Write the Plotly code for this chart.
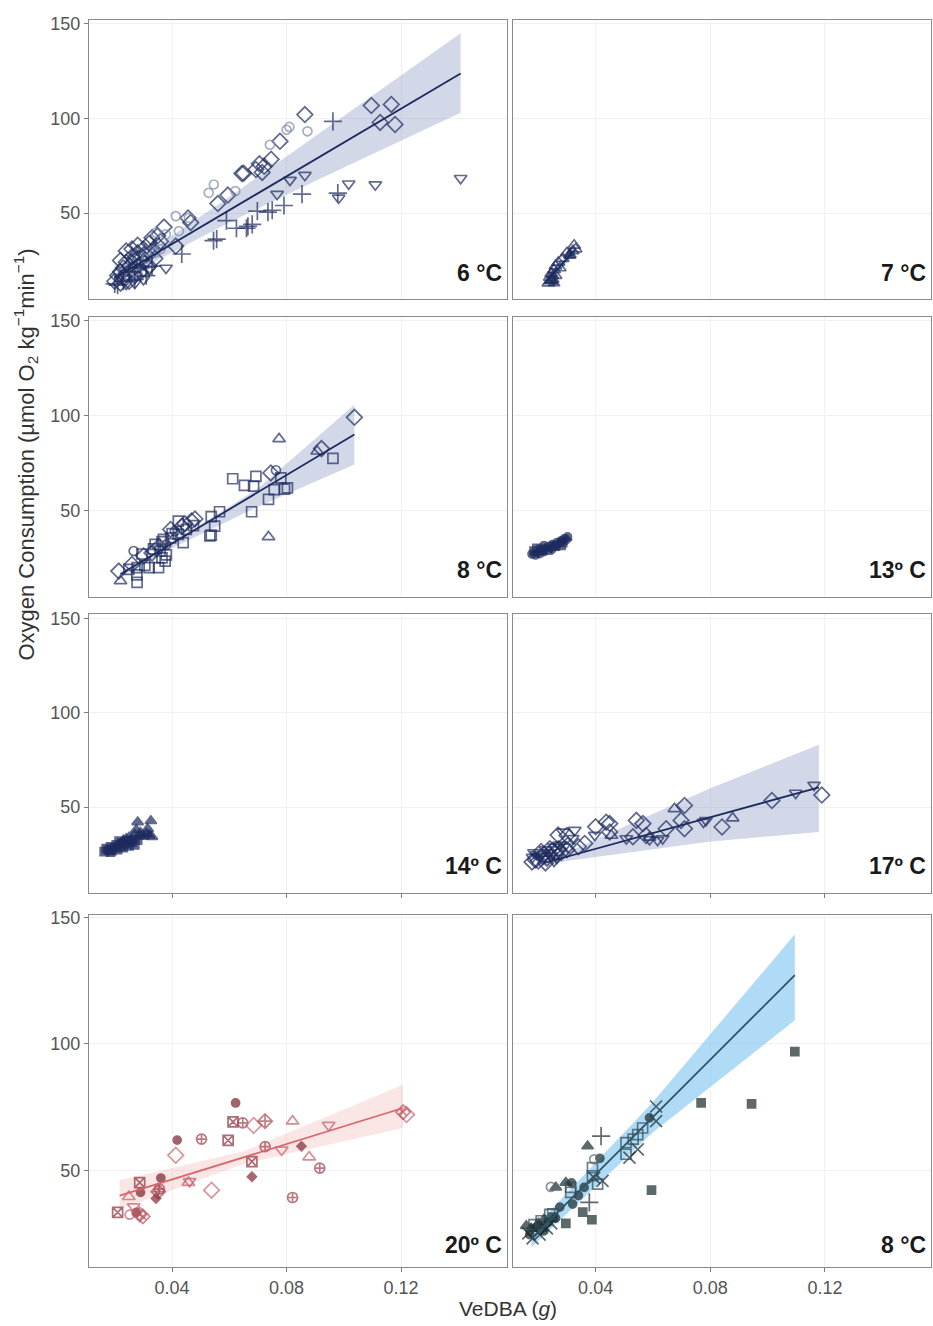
import plotly.graph_objects as go

# ---------------------------------------------------------------- data ----
# VeDBA (g) vs oxygen consumption (umol O2 kg-1 min-1), one set per panel.
# Shape codes: d diamond, o circle, v down-triangle, ^ up-triangle, + plus,
# s square, x cross (open); S, T, O, Dm filled square/triangle/circle/diamond;
# sx, o+, d+, dx boxed/crossed variants.

P6_X = [0.020, 0.021, 0.022, 0.022, 0.023, 0.023, 0.024, 0.024, 0.025, 0.025, 0.026, 0.026,
        0.027, 0.027, 0.028, 0.028, 0.029, 0.029, 0.030, 0.030, 0.031, 0.032, 0.032, 0.033,
        0.033, 0.034, 0.035, 0.035, 0.036, 0.024, 0.026, 0.028, 0.022,
        0.0372, 0.0456, 0.0465, 0.056, 0.0595, 0.0644, 0.065, 0.0693, 0.0705, 0.0722, 0.0715,
        0.0746, 0.0777, 0.0864, 0.1096, 0.1166, 0.1127, 0.1179, 0.0413,
        0.0742, 0.080, 0.081, 0.0873, 0.0546, 0.0528, 0.0621, 0.0459, 0.0413, 0.0424, 0.0378,
        0.0344, 0.025, 0.028, 0.031, 0.034, 0.036,
        0.1408, 0.111, 0.1017, 0.0982, 0.0864, 0.0812, 0.0767, 0.0379, 0.030, 0.024, 0.027, 0.032,
        0.0962, 0.0854, 0.0979, 0.0791, 0.075, 0.0735, 0.0698, 0.068, 0.0665, 0.066, 0.0625,
        0.059, 0.0556, 0.0545, 0.0434, 0.020, 0.033, 0.021, 0.023, 0.025, 0.027, 0.029, 0.031, 0.035]
P6_Y = [14, 17, 19, 13, 21, 16, 24, 18, 22, 14, 27, 20,
        25, 17, 29, 22, 26, 19, 31, 24, 28, 34, 22, 37,
        30, 26, 38, 33, 35, 30, 31, 33, 25,
        42.6, 47.4, 45, 55, 59.5, 70.9, 71, 73, 76, 74.7, 71.5,
        78.4, 87.9, 102, 106.8, 107.4, 97.9, 96.8, 32.6,
        86.1, 94, 95.5, 93.2, 65.1, 60.7, 61.6, 47.5, 48.4, 40.5, 38.8,
        39.7, 16, 18, 26, 29, 31,
        68.4, 65, 65.5, 58, 70, 67.4, 60, 21, 15, 12.5, 13, 20,
        98.4, 60, 60.5, 54, 51.5, 50.5, 51, 44, 43, 42, 42,
        46, 36.3, 35.5, 28.4, 12.6, 22, 12, 14, 19, 15, 21, 17, 22]
P6_SHAPE = ["d"] * 52 + ["o"] * 17 + ["v"] * 12 + ["+"] * 23

P7_X = [0.0235, 0.024, 0.0245, 0.025, 0.0255, 0.026, 0.027, 0.026, 0.0275, 0.031, 0.032,
        0.0325, 0.033, 0.0245, 0.0285, 0.030, 0.024, 0.025, 0.0255, 0.031]
P7_Y = [13, 16, 18, 15, 20, 22, 24, 17, 21, 28, 30, 33, 31, 14.5, 26, 29, 14, 17, 13, 27.5]
P7_SHAPE = ["^"] * 16 + ["T"] * 4

P8A_X = [0.0962, 0.0612, 0.0653, 0.0685, 0.0693, 0.078, 0.0803, 0.0793, 0.0757, 0.0737, 0.0678,
         0.0566, 0.0537, 0.0549, 0.0532, 0.0537, 0.0422, 0.0422, 0.0439, 0.037, 0.0365, 0.0358,
         0.0376, 0.0341, 0.0335, 0.032, 0.0353, 0.0278, 0.0278, 0.0277, 0.0249, 0.040, 0.038,
         0.0365, 0.045, 0.0475, 0.0395, 0.0305, 0.0295,
         0.1037, 0.0922, 0.0745, 0.0468, 0.0434, 0.0214, 0.0301, 0.0445, 0.0395, 0.0355, 0.026,
         0.033, 0.048,
         0.0774, 0.0907, 0.0737, 0.022,
         0.0763, 0.0266, 0.038, 0.041]
P8A_Y = [77.4, 66.7, 63.2, 62.8, 68, 67.2, 61.9, 61.2, 61, 55.8, 49.3,
         49.3, 46.7, 41.7, 36.5, 37, 44.4, 37.4, 33, 34.7, 33.5, 28.6,
         23.3, 32.1, 29.7, 19.8, 19.8, 19.8, 12, 16, 18.9, 37.8, 26.5,
         25, 40, 42, 35.5, 21, 27,
         99.1, 82.6, 69.8, 44.4, 41.7, 18, 26, 43, 40, 31, 21.5,
         27.5, 45.5,
         87.7, 81.2, 36, 12.8,
         71.2, 28.6, 32, 39]
P8A_SHAPE = ["s"] * 39 + ["d"] * 13 + ["^"] * 4 + ["o"] * 4

P13_X = [0.0178, 0.0185, 0.019, 0.020, 0.0205, 0.021, 0.022, 0.0225, 0.023, 0.024, 0.0245,
         0.025, 0.026, 0.0265, 0.027, 0.028, 0.0285, 0.029, 0.030, 0.0302, 0.0195, 0.022,
         0.025, 0.028]
P13_Y = [27, 28.5, 26.5, 28, 27.2, 29.5, 28.3, 30, 29, 31, 30, 32, 31.2, 33, 32.2, 34, 33,
         35, 34.5, 36, 30, 31.5, 29.5, 31.5]
P13_SHAPE = ["O", "S", "O", "Dm", "O", "S", "O", "Dm", "S", "O", "Dm", "O", "S", "O", "Dm",
             "O", "S", "O", "Dm", "O", "S", "O", "Dm", "S"]

P14_X = [0.0163, 0.017, 0.0178, 0.0185, 0.019, 0.020, 0.0205, 0.021, 0.022, 0.0225, 0.023,
         0.024, 0.0245, 0.025, 0.026, 0.027, 0.028, 0.0185, 0.0215,
         0.022, 0.023, 0.024, 0.025, 0.026, 0.027, 0.0275, 0.028, 0.029, 0.030, 0.031, 0.032,
         0.0326, 0.033, 0.0315, 0.0285]
P14_Y = [26.5, 28, 27.2, 29, 27, 28.5, 30, 27.5, 29.2, 31, 28.5, 30.5, 32, 29.5, 31.5, 30,
         32.5, 26.2, 32,
         30.5, 32.5, 33.2, 34, 33, 35.5, 38, 42.1, 36.5, 34.5, 36, 35, 42.7, 34.3, 38.5, 34.5]
P14_SHAPE = ["S"] * 19 + ["T"] * 16

P17_X = [0.1162, 0.1098, 0.0776, 0.0785, 0.0634, 0.0588, 0.0507, 0.0397, 0.0327, 0.0286,
         0.032, 0.0616,
         0.1189, 0.1015, 0.0841, 0.071, 0.0698, 0.071, 0.0646, 0.0576, 0.0565, 0.0542, 0.053,
         0.0449, 0.0449, 0.0437, 0.040, 0.0362, 0.034, 0.0269, 0.030, 0.0304,
         0.0878, 0.0675, 0.0588, 0.0455,
         0.0178, 0.018, 0.019, 0.0195, 0.020, 0.0205, 0.021, 0.0215, 0.022, 0.0225, 0.023,
         0.0235, 0.024, 0.0245, 0.025, 0.0255, 0.026, 0.0265, 0.027, 0.0275, 0.028, 0.029,
         0.030, 0.0185, 0.0225, 0.0255]
P17_Y = [61.7, 57.5, 42.1, 43, 33.4, 32.9, 33.4, 35.2, 37.8, 36.9, 33.5, 32.5,
         56.4, 53.5, 39.5, 50.9, 43, 38.6, 38.6, 35, 41.3, 43, 34.3,
         41.3, 36.9, 42, 39.6, 30.8, 29.1, 35.2, 35, 30,
         44.2, 49.1, 34, 35,
         21, 23.5, 22, 25, 21.5, 24, 26.5, 22.5, 25, 27.5, 23,
         26, 28, 24.5, 27, 29, 25.5, 23, 28, 30, 26, 29,
         27.5, 26, 20.5, 21.5]
P17_SHAPE = ["v"] * 12 + ["d"] * 20 + ["^"] * 4 + ["d", "v"] * 13

P20_X = [0.0622, 0.0418, 0.0361, 0.029, 0.0275,
         0.0613, 0.0596, 0.0679, 0.0287, 0.021,
         0.0647, 0.0503, 0.0725, 0.0916, 0.0821, 0.0356,
         0.0685, 0.0413, 0.0538, 0.1219,
         0.0725, 0.0352,
         0.0821, 0.0879, 0.0457, 0.0249,
         0.0947, 0.0783, 0.0461, 0.0266,
         0.0852, 0.0679, 0.0344,
         0.0252,
         0.1207, 0.0298, 0.0287]
P20_Y = [76.6, 61.9, 46.9, 41.2, 33.3,
         69.1, 61.8, 53.4, 45.1, 33.3,
         68.7, 62.3, 59.3, 50.8, 39.2, 42.5,
         67.7, 55.9, 42.1, 72,
         69.4, 41.5,
         69.4, 55.2, 45.1, 39.5,
         67.8, 58, 45.6, 35.6,
         59.5, 47.4, 38.8,
         32.4,
         73, 31.7, 32.5]
P20_SHAPE = (["O"] * 5 + ["sx"] * 5 + ["o+"] * 6 + ["d"] * 4 + ["d+"] * 2 + ["^"] * 4
             + ["v"] * 4 + ["Dm"] * 3 + ["o"] + ["dx"] * 3)

P8B_X = [0.1095, 0.0768, 0.0944, 0.0595, 0.0355, 0.0387, 0.0296, 0.0251,
         0.0611, 0.0611, 0.0547, 0.0518, 0.0424, 0.0165, 0.018, 0.019, 0.0205, 0.021, 0.023,
         0.0245, 0.0395,
         0.0419, 0.0378,
         0.0372, 0.0296, 0.0261, 0.0158, 0.0175, 0.020, 0.022,
         0.0588, 0.0415, 0.0316, 0.032, 0.036, 0.017, 0.0195, 0.022, 0.0235, 0.026, 0.0275, 0.034,
         0.0564, 0.0547, 0.0506, 0.0506, 0.0531, 0.0389, 0.0389, 0.0407, 0.0313, 0.0313, 0.025,
         0.021, 0.024, 0.0185,
         0.0244, 0.0395]
P8B_Y = [96.9, 76.6, 76.2, 42.1, 33.4, 30.4, 29, 31.4,
         75.2, 69.4, 58.2, 55, 45.8, 25, 23, 26.5, 24.5, 28, 27, 29, 47,
         63.5, 37.3,
         59.5, 45.1, 43.2, 28, 27, 29, 30.5,
         70.7, 54.7, 45, 36.6, 43.2, 24.5, 27.5, 26, 29.5, 31, 35.4, 40,
         66.7, 64.1, 60.9, 56.3, 62.3, 51, 47.8, 44.5, 43.2, 41.2, 32.7, 30, 32.5, 28.5,
         43.4, 54.3]
P8B_SHAPE = (["S"] * 8 + ["x"] * 13 + ["+"] * 2 + ["T"] * 7 + ["O"] * 12 + ["s"] * 14
             + ["o"] * 2)

# fitted lines (end points) and confidence bands
FIT6_X, FIT6_Y = [0.020, 0.1408], [15.8, 123.7]
BAND6_X = [0.020, 0.035, 0.060, 0.090, 0.1408]
BAND6_HI = [18.0, 33.0, 58.5, 90.5, 145.0]
BAND6_LO = [13.5, 25.5, 45.0, 67.0, 103.0]

FIT7_X, FIT7_Y = [0.0235, 0.033], [15.0, 31.0]
BAND7_X = [0.0235, 0.033]
BAND7_HI = [16.5, 33.0]
BAND7_LO = [13.5, 29.0]

FIT8A_X, FIT8A_Y = [0.022, 0.1037], [16.3, 90.0]
BAND8A_X = [0.022, 0.040, 0.070, 0.1037]
BAND8A_HI = [17.5, 33.0, 61.5, 105.8]
BAND8A_LO = [15.0, 30.0, 52.0, 74.2]

FIT13_X, FIT13_Y = [0.018, 0.030], [27.0, 35.0]
BAND13_X = [0.018, 0.030]
BAND13_HI = [28.0, 36.5]
BAND13_LO = [26.0, 33.5]

FIT14_X, FIT14_Y = [0.0165, 0.033], [26.5, 37.0]
BAND14_X = [0.0165, 0.033]
BAND14_HI = [27.5, 39.0]
BAND14_LO = [25.5, 35.0]

FIT17_X, FIT17_Y = [0.0217, 0.1179], [20.3, 60.5]
BAND17_X = [0.0217, 0.0298, 0.0794, 0.1179]
BAND17_HI = [21.6, 26.0, 59.6, 83.1]
BAND17_LO = [19.0, 21.5, 31.7, 36.9]

FIT20_X, FIT20_Y = [0.0217, 0.1207], [39.9, 74.6]
BAND20_X = [0.0217, 0.065, 0.1207]
BAND20_HI = [46.0, 57.5, 83.8]
BAND20_LO = [34.5, 52.5, 66.7]

FIT8B_X, FIT8B_Y = [0.0176, 0.1095], [22.9, 127.2]
BAND8B_X = [0.0176, 0.060, 0.1095]
BAND8B_HI = [26.0, 77.0, 143.3]
BAND8B_LO = [19.5, 65.0, 109.3]

PANEL_LABELS = ["6 °C", "7 °C", "8 °C", "13º C", "14º C", "17º C", "20º C", "8 °C"]
X_TICKS = [0.04, 0.08, 0.12]
X_TICK_TEXT = ["0.04", "0.08", "0.12"]
Y_TICKS = [50, 100, 150]
Y_TICK_TEXT = ["50", "100", "150"]

# --------------------------------------------------------------- style ----
W, H = 933, 1326
FONT = "Liberation Sans, Arial, sans-serif"
COLS = [(89, 507), (512.5, 931)]                     # px, left/right
ROWS = [(13, 294), (311.7, 593), (610.7, 891), (912.7, 1266.7)]  # px, top/bottom
X_RANGE = [0.011, 0.157]
Y_RANGE_TOP = [4.4, 152.0]
Y_RANGE_BOTTOM = [11.7, 151.0]

NAVY = "#1e2b5e"
SYMBOL = {
    "d": ("diamond-open", 12), "o": ("circle-open", 9), "v": ("triangle-down-open", 11),
    "^": ("triangle-up-open", 11), "+": ("cross-thin-open", 13), "s": ("square-open", 10),
    "x": ("x-thin-open", 12), "S": ("square", 8), "T": ("triangle-up", 10),
    "O": ("circle", 8), "Dm": ("diamond", 7), "sx": ("square-x-open", 10),
    "o+": ("circle-cross-open", 10), "d+": ("diamond-cross-open", 11),
    "dx": ("diamond-x-open", 11),
}

panels = [
    dict(x=P6_X, y=P6_Y, shape=P6_SHAPE, fx=FIT6_X, fy=FIT6_Y,
         bx=BAND6_X, hi=BAND6_HI, lo=BAND6_LO,
         colors={"o": "#7f8bab"}, base=NAVY, line=NAVY, band="rgba(105,125,175,0.30)"),
    dict(x=P7_X, y=P7_Y, shape=P7_SHAPE, fx=FIT7_X, fy=FIT7_Y,
         bx=BAND7_X, hi=BAND7_HI, lo=BAND7_LO,
         colors={}, base=NAVY, line=NAVY, band="rgba(90,160,220,0.45)"),
    dict(x=P8A_X, y=P8A_Y, shape=P8A_SHAPE, fx=FIT8A_X, fy=FIT8A_Y,
         bx=BAND8A_X, hi=BAND8A_HI, lo=BAND8A_LO,
         colors={}, base=NAVY, line=NAVY, band="rgba(105,125,175,0.30)"),
    dict(x=P13_X, y=P13_Y, shape=P13_SHAPE, fx=FIT13_X, fy=FIT13_Y,
         bx=BAND13_X, hi=BAND13_HI, lo=BAND13_LO,
         colors={}, base=NAVY, line=NAVY, band="rgba(90,160,220,0.45)"),
    dict(x=P14_X, y=P14_Y, shape=P14_SHAPE, fx=FIT14_X, fy=FIT14_Y,
         bx=BAND14_X, hi=BAND14_HI, lo=BAND14_LO,
         colors={}, base=NAVY, line=NAVY, band="rgba(90,160,220,0.45)"),
    dict(x=P17_X, y=P17_Y, shape=P17_SHAPE, fx=FIT17_X, fy=FIT17_Y,
         bx=BAND17_X, hi=BAND17_HI, lo=BAND17_LO,
         colors={}, base=NAVY, line=NAVY, band="rgba(105,125,175,0.30)"),
    dict(x=P20_X, y=P20_Y, shape=P20_SHAPE, fx=FIT20_X, fy=FIT20_Y,
         bx=BAND20_X, hi=BAND20_HI, lo=BAND20_LO,
         colors={"O": "#7a222e", "sx": "#88303c", "o+": "#a03f4a", "d": "#c86a73",
                 "d+": "#a8474f", "^": "#c25c66", "v": "#c25c66", "Dm": "#86283a",
                 "o": "#c25c66", "dx": "#b8535c"},
         base="#a8444e", line="#d9666d", band="rgba(235,140,140,0.22)"),
    dict(x=P8B_X, y=P8B_Y, shape=P8B_SHAPE, fx=FIT8B_X, fy=FIT8B_Y,
         bx=BAND8B_X, hi=BAND8B_HI, lo=BAND8B_LO,
         colors={"s": "#2f4a55", "o": "#5a6a70"}, base="#1b2a2e", line="#2e5566",
         band="rgba(110,190,238,0.55)"),
]


def px_to_paper_x(p):
    return p / W


def px_to_paper_y(p):
    return 1 - p / H


fig = go.Figure()
layout = {}
annotations = []

for i, pnl in enumerate(panels):
    n = i + 1
    row, col = divmod(i, 2)
    xa = "x" if n == 1 else f"x{n}"
    ya = "y" if n == 1 else f"y{n}"

    # confidence band
    fig.add_trace(go.Scatter(
        x=pnl["bx"] + pnl["bx"][::-1], y=pnl["hi"] + pnl["lo"][::-1],
        fill="toself", fillcolor=pnl["band"], line=dict(width=0),
        mode="lines", hoverinfo="skip", showlegend=False, xaxis=xa, yaxis=ya))

    # observations
    syms = [SYMBOL[s][0] for s in pnl["shape"]]
    sizes = [SYMBOL[s][1] for s in pnl["shape"]]
    cols = [pnl["colors"].get(s, pnl["base"]) for s in pnl["shape"]]
    fig.add_trace(go.Scatter(
        x=pnl["x"], y=pnl["y"], mode="markers",
        marker=dict(symbol=syms, size=sizes, color=cols,
                    line=dict(width=1.7, color=cols)),
        showlegend=False, xaxis=xa, yaxis=ya))

    # fitted line
    fig.add_trace(go.Scatter(
        x=pnl["fx"], y=pnl["fy"], mode="lines",
        line=dict(color=pnl["line"], width=1.8),
        showlegend=False, xaxis=xa, yaxis=ya))

    left, right = COLS[col]
    top, bottom = ROWS[row]
    layout["xaxis" if n == 1 else f"xaxis{n}"] = dict(
        domain=[px_to_paper_x(left), px_to_paper_x(right)], range=X_RANGE,
        anchor=ya, showline=True, mirror=True, linecolor="#8a8a8a", linewidth=1,
        showgrid=True, gridcolor="#f1f1f1", gridwidth=1, zeroline=False,
        tickvals=X_TICKS, ticktext=X_TICK_TEXT, showticklabels=(row == 3),
        ticks="outside" if row >= 2 else "", ticklen=4, tickcolor="#7a7a7a",
        tickfont=dict(family=FONT, size=18, color="#555555"))
    layout["yaxis" if n == 1 else f"yaxis{n}"] = dict(
        domain=[px_to_paper_y(bottom), px_to_paper_y(top)],
        range=Y_RANGE_BOTTOM if row == 3 else Y_RANGE_TOP,
        anchor=xa, showline=True, mirror=True, linecolor="#8a8a8a", linewidth=1,
        showgrid=True, gridcolor="#f1f1f1", gridwidth=1, zeroline=False,
        tickvals=Y_TICKS, ticktext=Y_TICK_TEXT, showticklabels=(col == 0),
        ticks="outside" if col == 0 else "", ticklen=4, tickcolor="#7a7a7a",
        tickfont=dict(family=FONT, size=18, color="#555555"))

    label_offset = 22 if row == 3 else 27
    annotations.append(dict(
        text=f"<b>{PANEL_LABELS[i]}</b>", xref="paper", yref="paper",
        x=px_to_paper_x(right - 3), y=px_to_paper_y(bottom - label_offset),
        xanchor="right", yanchor="middle", showarrow=False,
        font=dict(family=FONT, size=23, color="#1a1a1a")))

annotations.append(dict(
    text="Oxygen Consumption (µmol O<sub>2</sub> kg<sup>−1</sup>min<sup>−1</sup>)",
    xref="paper", yref="paper", x=px_to_paper_x(26), y=px_to_paper_y(450),
    xanchor="center", yanchor="middle", textangle=-90, showarrow=False,
    font=dict(family=FONT, size=22, color="#333333")))
annotations.append(dict(
    text="VeDBA (<i>g</i>)", xref="paper", yref="paper",
    x=px_to_paper_x(508), y=px_to_paper_y(1308),
    xanchor="center", yanchor="middle", showarrow=False,
    font=dict(family=FONT, size=21, color="#333333")))

fig.update_layout(
    width=W, height=H, margin=dict(l=0, r=0, t=0, b=0),
    paper_bgcolor="white", plot_bgcolor="white",
    annotations=annotations, **layout)

fig.write_html("out.html")
